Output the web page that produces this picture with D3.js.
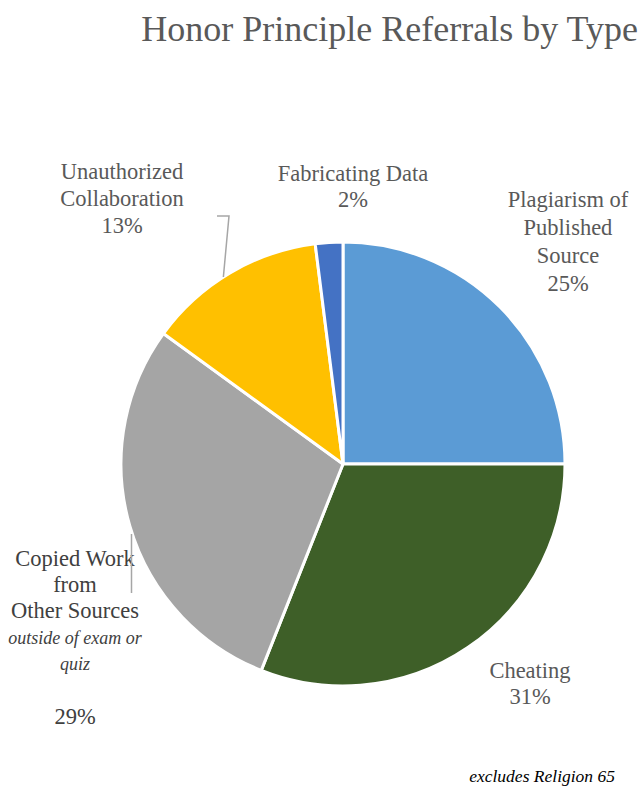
<!DOCTYPE html>
<html>
<head>
<meta charset="utf-8">
<script src="https://cdn.jsdelivr.net/npm/d3@7"></script>
</head>
<body style="margin:0">
<script>
// data (percent of referrals)
var categories = ["Plagiarism of Published Source", "Cheating", "Copied Work from Other Sources",
                  "Unauthorized Collaboration", "Fabricating Data"];
var values = [25, 31, 29, 13, 2];
var colours = ["#5B9BD5", "#3E5F28", "#A5A5A5", "#FFC000", "#4472C4"];

// label lines as drawn on the chart
var labelLines = [
  [["Plagiarism of"], ["Published"], ["Source"], ["25%"]],
  [["Cheating"], ["31%"]],
  [["Copied Work"], ["from"], ["Other Sources"], ["outside of exam or", "i"], ["quiz", "i"], [""], ["29%"]],
  [["Unauthorized"], ["Collaboration"], ["13%"]],
  [["Fabricating Data"], ["2%"]]
];

var width = 642, height = 787;
var cx = 343, cy = 464, radius = 222;

var svg = d3.select("body")
  .append("svg")
    .attr("width", width)
    .attr("height", height)
    .attr("font-family", "Liberation Serif")
    .style("display", "block");

// title
svg.append("text")
  .attr("x", 638)
  .attr("y", 41)
  .attr("text-anchor", "end")
  .attr("fill", "#595959")
  .attr("font-size", 36)
  .style("font-family", "'Liberation Serif'")
  .text("Honor Principle Referrals by Type");

var pie = d3.pie()
  .sort(null)
  .value(function(d) { return d; });

var arc = d3.arc()
  .innerRadius(0)
  .outerRadius(radius);

var g = svg.append("g")
  .attr("transform", "translate(" + cx + "," + cy + ")");

var arcs = pie(values);

g.selectAll("path")
  .data(arcs)
  .enter()
    .append("path")
      .attr("d", arc)
      .attr("fill", function(d, i) { return colours[i]; })
      .attr("stroke", "#fff")
      .attr("stroke-width", 3)
      .attr("stroke-linejoin", "round");

// label placement (centre x, first baseline, line step, colour)
var labelPlace = [
  {x: 568, y: 207, step: 28, fill: "#595959"},
  {x: 530, y: 678, step: 26, fill: "#595959"},
  {x: 75, y: 566, step: 26, fill: "#404040"},
  {x: 122, y: 179, step: 27, fill: "#595959"},
  {x: 353, y: 181, step: 26, fill: "#595959"}
];

labelLines.forEach(function(lines, i) {
  var p = labelPlace[i];
  lines.forEach(function(l, j) {
    svg.append("text")
      .attr("x", p.x)
      .attr("y", p.y + j * p.step + (i == 2 && j > 5 ? 2 : 0))
      .attr("text-anchor", "middle")
      .attr("fill", p.fill)
      .attr("font-size", l[1] == "i" ? 18 : 22.5)
      .attr("font-style", l[1] == "i" ? "italic" : null)
      .style("font-family", "'Liberation Serif'")
      .text(l[0]);
  });
});

// leader lines
var leader = d3.line();
var mid = (arcs[3].startAngle + arcs[3].endAngle) / 2 - 0.035;
var edge = [cx + radius * Math.sin(mid), cy - radius * Math.cos(mid)];
svg.append("path")
  .attr("d", leader([[217, 216], [229, 216], edge]))
  .attr("fill", "none")
  .attr("stroke", "#A6A6A6")
  .attr("stroke-width", 1.5);

svg.append("path")
  .attr("d", leader([[131.5, 534], [131.5, 593]]))
  .attr("fill", "none")
  .attr("stroke", "#A6A6A6")
  .attr("stroke-width", 1.5);

// footnote
svg.append("text")
  .attr("x", 615)
  .attr("y", 782)
  .attr("text-anchor", "end")
  .attr("font-style", "italic")
  .attr("font-size", 17.5)
  .attr("fill", "#000")
  .style("font-family", "'Liberation Serif'")
  .text("excludes Religion 65");
</script>
</body>
</html>
